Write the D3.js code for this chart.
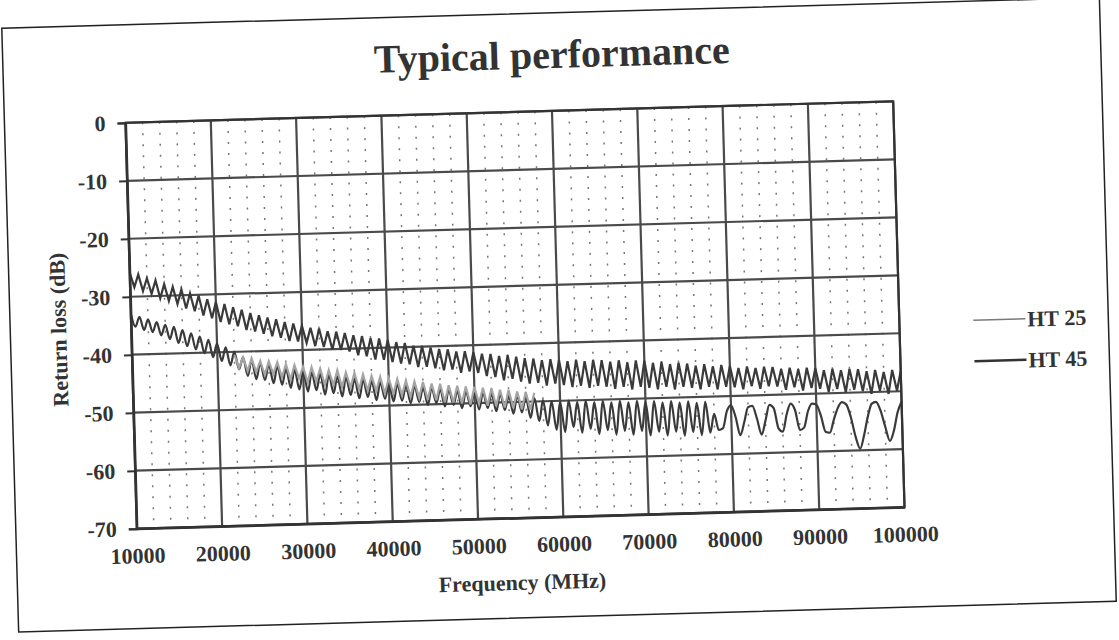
<!DOCTYPE html>
<html>
<head>
<meta charset="utf-8">
<script src="https://cdn.jsdelivr.net/npm/d3@7"></script>
<style>
  body { margin: 0; background: #fff; }
  svg text { font-family: "Liberation Serif", "DejaVu Serif", serif; font-weight: bold; fill: #333; }
</style>
</head>
<body>
<div id="chart"></div>
<script>

const xTicks = [10000, 20000, 30000, 40000, 50000, 60000, 70000, 80000, 90000, 100000];
const yTicks = [0, -10, -20, -30, -40, -50, -60, -70];
const legendNames = ["HT 25", "HT 45"];

// upper dark trace, one value every 500 MHz from 10000 (peak, dip, peak, dip ...)
const upperTrace = [
    -25.8, -28.4, -26.2, -29.1, -26.9, -29.6, -27.3, -30.4, -28.0, -30.9,
    -28.5, -31.5, -29.0, -32.3, -29.7, -32.8, -30.1, -33.6, -30.8, -34.1,
    -31.3, -34.8, -31.7, -35.2, -32.3, -35.6, -32.8, -36.3, -33.4, -36.6,
    -33.8, -37.0, -34.3, -37.5, -34.6, -37.8, -35.1, -38.4, -35.4, -38.5,
    -35.8, -38.8, -36.2, -39.4, -36.4, -39.6, -36.9, -40.1, -37.0, -40.2,
    -37.3, -40.5, -37.7, -41.2, -37.9, -41.4, -38.3, -42.0, -38.4, -42.1,
    -38.7, -42.5, -39.1, -42.8, -39.3, -43.0, -39.8, -43.5, -39.9, -43.5,
    -40.2, -43.8, -40.5, -44.2, -40.6, -44.1, -41.0, -44.7, -41.0, -44.5,
    -41.2, -44.8, -41.5, -45.4, -41.6, -45.6, -42.0, -46.2, -41.9, -46.0,
    -42.2, -46.5, -42.5, -46.9, -42.6, -46.8, -42.9, -47.3, -42.8, -47.0,
    -43.0, -47.3, -43.2, -47.7, -43.0, -47.5, -43.3, -47.9, -43.1, -47.6,
    -43.2, -47.8, -43.5, -48.2, -43.3, -47.9, -43.7, -48.4, -43.4, -48.0,
    -43.5, -48.2, -43.9, -48.5, -43.8, -48.1, -44.2, -48.6, -44.0, -48.2,
    -44.2, -48.4, -44.6, -48.7, -44.4, -48.3, -44.8, -48.8, -44.6, -48.4,
    -44.8, -48.5, -45.2, -48.9, -45.0, -48.4, -45.3, -48.9, -45.1, -48.5,
    -45.2, -48.6, -45.6, -49.2, -45.4, -48.8, -45.7, -49.4, -45.5, -49.0,
    -45.6, -49.2, -46.0, -49.8, -45.8, -49.3, -46.1, -49.9, -45.9, -49.5,
    -46.0, -49.8, -46.4, -50.3, -46.2, -49.8, -46.6, -50.4, -46.3, -49.9,
    -46.5
];

// HT 45, every 500 MHz from 10000 to 77500
const ht45Dense = [
    -33.0, -35.2, -33.5, -35.8, -34.0, -36.2, -34.5, -36.8, -35.0, -37.5,
    -35.4, -38.2, -36.0, -38.8, -36.6, -39.4, -37.2, -40.1, -37.8, -40.8,
    -38.5, -41.5, -39.2, -42.3, -40.0, -43.0, -41.0, -44.2, -41.5, -44.8,
    -42.0, -45.0, -42.3, -45.6, -42.6, -45.9, -43.0, -46.5, -43.3, -46.8,
    -43.6, -47.2, -43.9, -47.0, -44.2, -47.8, -44.4, -47.6, -44.7, -48.2,
    -44.9, -48.0, -45.2, -48.6, -45.4, -48.4, -45.7, -49.0, -45.9, -48.8,
    -46.2, -49.3, -46.3, -49.2, -46.6, -49.7, -46.7, -49.5, -47.0, -50.1,
    -47.1, -49.8, -47.4, -50.4, -47.5, -50.2, -47.8, -50.8, -47.9, -50.5,
    -48.1, -51.1, -48.2, -50.9, -48.4, -51.5, -48.5, -51.3, -48.8, -52.0,
    -48.9, -51.8, -49.2, -52.8, -49.4, -53.4, -49.8, -54.2, -50.0, -55.0,
    -50.2, -55.4, -50.0, -54.6, -50.3, -55.6, -50.1, -55.0, -50.4, -55.9,
    -50.2, -55.3, -50.5, -56.1, -50.3, -55.5, -50.6, -56.2, -50.4, -55.6,
    -50.6, -56.4, -50.5, -55.8, -50.8, -56.5, -50.6, -55.9, -50.9, -56.6,
    -50.7, -56.0, -51.0, -56.6, -50.9, -56.2
];

// HT 45 scallops, every 500 MHz from 78000 to 100000
const ht45Tail = [
    -53.0, -55.8, -55.5, -52.6, -51.6, -53.6, -56.8, -54.6, -52.0, -51.8,
    -54.0, -56.8, -54.4, -51.7, -52.3, -55.8, -56.4, -53.4, -51.6, -52.8,
    -56.2, -55.8, -53.0, -51.7, -51.9, -53.8, -56.6, -56.8, -54.6, -52.6,
    -51.6, -52.0, -54.2, -57.6, -59.7, -57.4, -54.2, -52.0, -51.7, -53.2,
    -56.0, -58.5, -56.8, -53.6, -51.8
];

// HT 25, every 500 MHz from 22000 to 57000
const ht25Trace = [
    -40.5, -42.8, -41.0, -43.4, -41.2, -43.6, -41.7, -44.1, -41.8, -44.0,
    -42.0, -44.6, -42.4, -45.0, -42.6, -44.9, -42.9, -45.6, -43.0, -45.5,
    -43.3, -46.1, -43.6, -46.2, -43.7, -46.6, -44.1, -46.7, -44.2, -47.1,
    -44.5, -47.3, -44.8, -47.4, -45.0, -47.9, -45.3, -48.0, -45.5, -48.3,
    -45.8, -48.6, -46.0, -48.8, -46.1, -49.2, -46.4, -49.3, -46.5, -49.7,
    -46.8, -49.8, -46.9, -50.0, -47.1, -50.2, -47.2, -50.1, -47.4, -50.5,
    -47.5, -50.6, -47.8, -50.9, -47.9, -51.0, -48.2, -51.3, -48.3, -51.4,
    -48.5
];

const width = 1119, height = 640;
const svg = d3.select("#chart").append("svg")
    .attr("width", width)
    .attr("height", height);

// the scan is slightly tilted
const page = svg.append("g").attr("transform", "rotate(-1.6, 515, 315)");

page.append("rect")
    .attr("x", 10).attr("y", 14)
    .attr("width", 1098).attr("height", 604)
    .attr("fill", "#fff")
    .attr("stroke", "#222")
    .attr("stroke-width", 1.5);

const x = d3.scaleLinear().domain([10000, 100000]).range([131, 899]);
const y = d3.scaleLinear().domain([-70, 0]).range([518, 112]);

// minor vertical gridlines (dotted in the scan)
const minorX = d3.range(12000, 100000, 2000).filter(d => d % 10000 !== 0);
page.selectAll("line.minor")
    .data(minorX)
    .enter()
    .append("line")
    .attr("class", "minor")
    .attr("x1", d => x(d)).attr("x2", d => x(d))
    .attr("y1", y(0)).attr("y2", y(-70))
    .attr("stroke", "#777")
    .attr("stroke-width", 1.5)
    .attr("stroke-dasharray", "2,9");

page.selectAll("line.vgrid")
    .data(xTicks)
    .enter()
    .append("line")
    .attr("class", "vgrid")
    .attr("x1", d => x(d)).attr("x2", d => x(d))
    .attr("y1", y(0)).attr("y2", y(-70))
    .attr("stroke", "#4a4a4a")
    .attr("stroke-width", 2.2);

page.selectAll("line.hgrid")
    .data(yTicks)
    .enter()
    .append("line")
    .attr("class", "hgrid")
    .attr("x1", x(10000)).attr("x2", x(100000))
    .attr("y1", d => y(d)).attr("y2", d => y(d))
    .attr("stroke", "#4a4a4a")
    .attr("stroke-width", 2.2);

const line = d3.line()
    .x(d => x(d[0]))
    .y(d => y(d[1]));

function withFreq(values, start) {
    return values.map((v, i) => [start + i * 500, v]);
}

const upperPts = withFreq(upperTrace, 10000);
const ht45Pts = withFreq(ht45Dense.concat(ht45Tail), 10000);
const ht25Pts = withFreq(ht25Trace, 22000);

page.append("path")
    .datum(upperPts)
    .attr("d", line)
    .attr("fill", "none")
    .attr("stroke", "#3a3a3a")
    .attr("stroke-width", 2.2);

page.append("path")
    .datum(ht45Pts)
    .attr("d", line.curve(d3.curveMonotoneX))
    .attr("fill", "none")
    .attr("stroke", "#3a3a3a")
    .attr("stroke-width", 2.2);

page.append("path")
    .datum(ht25Pts)
    .attr("d", line.curve(d3.curveLinear))
    .attr("fill", "none")
    .attr("stroke", "#a4a4a4")
    .attr("stroke-width", 2.2);

// axes
const yAxis = page.append("g")
    .attr("transform", "translate(" + x(10000) + ",0)")
    .call(d3.axisLeft(y).tickValues(yTicks).tickSize(8).tickPadding(12).tickFormat(d => String(d)));
yAxis.select(".domain").attr("stroke", "#333").attr("stroke-width", 2.2);
yAxis.selectAll(".tick line").attr("stroke", "#333").attr("stroke-width", 2);
yAxis.selectAll("text").style("font-size", "22px").attr("fill", null);

const xAxis = page.append("g")
    .attr("transform", "translate(0," + y(-70) + ")")
    .call(d3.axisBottom(x).tickValues(xTicks).tickSize(0).tickPadding(19).tickFormat(d => String(d)));
xAxis.select(".domain").attr("stroke", "#333").attr("stroke-width", 2.2);
xAxis.selectAll("text").style("font-size", "22px").attr("fill", null);

page.append("rect")
    .attr("x", x(10000)).attr("y", y(0))
    .attr("width", x(100000) - x(10000))
    .attr("height", y(-70) - y(0))
    .attr("fill", "none")
    .attr("stroke", "#333")
    .attr("stroke-width", 2.2);

page.append("text")
    .attr("x", 559).attr("y", 69)
    .attr("text-anchor", "middle")
    .style("font-size", "40px")
    .text("Typical performance");

page.append("text")
    .attr("x", 515).attr("y", 590)
    .attr("text-anchor", "middle")
    .style("font-size", "22px")
    .text("Frequency (MHz)");

page.append("text")
    .attr("transform", "translate(66,317) rotate(-90)")
    .attr("text-anchor", "middle")
    .style("font-size", "22px")
    .text("Return loss (dB)");

// legend
const legendStyle = [
    { color: "#7a7a7a", w: 1.6 },
    { color: "#333", w: 2.6 }
];
const legend = page.selectAll("g.legend")
    .data(legendNames)
    .enter()
    .append("g")
    .attr("class", "legend")
    .attr("transform", (d, i) => "translate(973," + (333 + i * 41) + ")");

legend.append("line")
    .attr("x1", 0).attr("x2", 52)
    .attr("stroke", (d, i) => legendStyle[i].color)
    .attr("stroke-width", (d, i) => legendStyle[i].w);

legend.append("text")
    .attr("x", 54)
    .attr("dy", "0.35em")
    .style("font-size", "22px")
    .text(d => d);

</script>
</body>
</html>
